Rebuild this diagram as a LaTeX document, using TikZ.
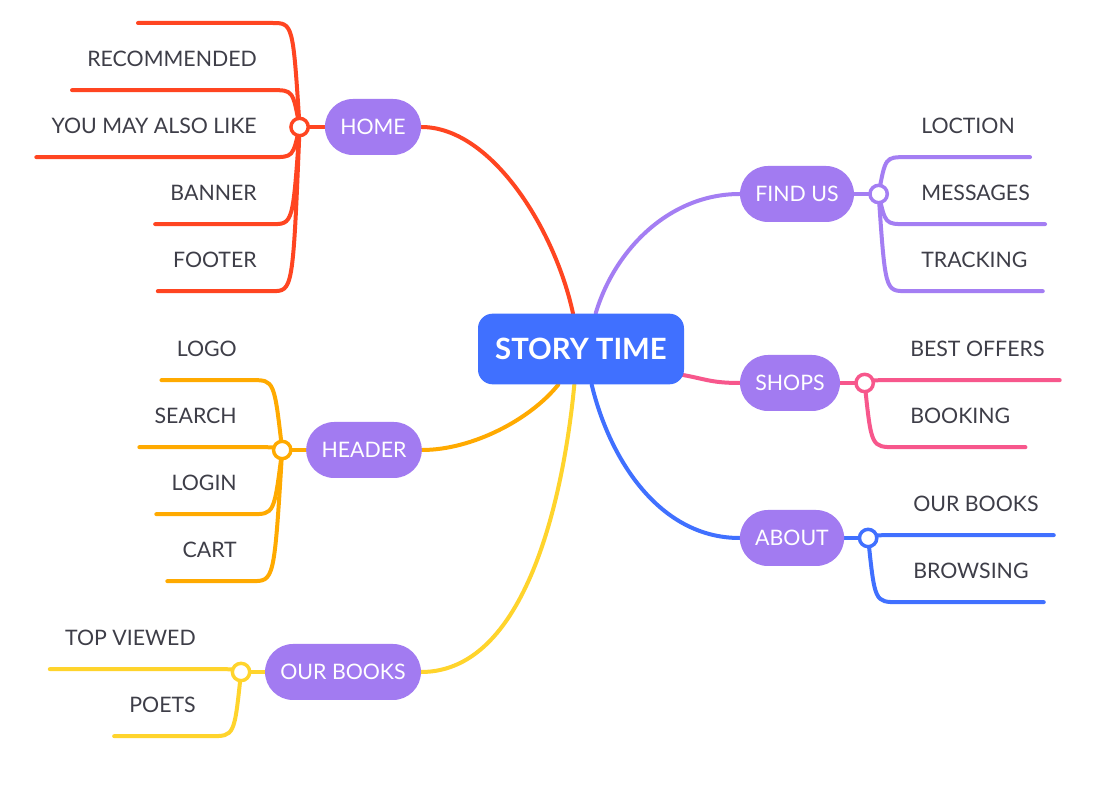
\documentclass[tikz,border=0pt]{standalone}
\usepackage{fontspec}
\setmainfont{Lato}
\usetikzlibrary{positioning,backgrounds}

\definecolor{storyblue}{HTML}{4070FF}
\definecolor{nodepurple}{HTML}{A27BF1}
\definecolor{homered}{HTML}{FF4521}
\definecolor{headerorange}{HTML}{FFAA00}
\definecolor{booksyellow}{HTML}{FFD42C}
\definecolor{findpurple}{HTML}{A47EF3}
\definecolor{shopspink}{HTML}{F7578C}
\definecolor{aboutblue}{HTML}{4070FF}
\definecolor{leafgray}{HTML}{3E3E48}

\begin{document}
\begin{tikzpicture}[x=0.75pt, y=-0.75pt,
		mainnode/.style={rectangle, rounded corners=11pt, fill=storyblue, text=white, minimum width=154.5pt, minimum height=53pt, font=\fontsize{22}{26}\selectfont\bfseries},
		branch/.style={rectangle, rounded corners=21pt, fill=nodepurple, text=white, minimum height=42pt, inner xsep=11.5pt, font=\fontsize{16}{19}\selectfont},
		hub/.style={circle, draw=#1, fill=white, line width=2.6pt, minimum size=13pt, inner sep=0pt},
		leaf/.style={text=leafgray, inner xsep=11.25pt, inner ysep=17.4pt, text height=11.5pt, text depth=0pt, font=\fontsize{16}{19}\selectfont},
		link/.style={draw=#1, line width=3pt, line cap=round},
		]
		\useasboundingbox (0,0) rectangle (1101,787);

		%Main Nodes
		\node[mainnode]	(story)		at (581,349)	{STORY TIME};
		\node[branch]	(home)		at (373,127)	{HOME};
		\node[branch]	(header)	at (364,450)	{HEADER};
		\node[branch]	(ourbooks)	at (343,672)	{OUR BOOKS};
		\node[branch]	(findus)	at (797,194)	{FIND US};
		\node[branch]	(shops)		at (790,383)	{SHOPS};
		\node[branch]	(about)		at (792,538)	{ABOUT};

		%Hubs
		\node[hub=homered]		(home_hub)		[left=11pt of home]		{};
		\node[hub=headerorange]	(header_hub)	[left=10pt of header]	{};
		\node[hub=booksyellow]	(books_hub)		[left=10pt of ourbooks]	{};
		\node[hub=findpurple]	(find_hub)		[right=10.5pt of findus]	{};
		\node[hub=shopspink]	(shops_hub)		[right=10.5pt of shops]	{};
		\node[hub=aboutblue]	(about_hub)		[right=10pt of about]	{};
		\coordinate	(home_root)		at ([xshift=-5pt]home_hub.center);
		\coordinate	(header_root)	at ([xshift=-6pt]header_hub.center);
		\coordinate	(books_root)	at ([xshift=-5pt]books_hub.center);
		\coordinate	(find_root)		at ([xshift=5pt]find_hub.center);
		\coordinate	(shops_root)	at ([xshift=5pt]shops_hub.center);
		\coordinate	(about_root)	at ([xshift=5pt]about_hub.center);

		%Home
		\coordinate	(home_top_in)	at (272,23);
		\coordinate	(home_top)		at (138,23);
		\node[leaf, anchor=east]	(recommended)	at (272,59)		{RECOMMENDED};
		\node[leaf, anchor=east]	(alsolike)		at (272,126)	{YOU MAY ALSO LIKE};
		\node[leaf, anchor=east]	(banner)		at (272,193)	{BANNER};
		\node[leaf, anchor=east]	(footer)		at (272,260)	{FOOTER};

		%Header
		\node[leaf, anchor=east]	(logo)		at (252,349)	{LOGO};
		\node[leaf, anchor=east]	(search)	at (252,416)	{SEARCH};
		\node[leaf, anchor=east]	(login)		at (252,483)	{LOGIN};
		\node[leaf, anchor=east]	(cart)		at (252,550)	{CART};

		%Our Books
		\node[leaf, anchor=east]	(topviewed)	at (211,638)	{TOP VIEWED};
		\node[leaf, anchor=east]	(poets)		at (211,705)	{POETS};

		%Find Us
		\node[leaf, anchor=west]	(location)	at (906,126)	{LOCTION};
		\node[leaf, anchor=west]	(messages)	at (906,193)	{MESSAGES};
		\node[leaf, anchor=west]	(tracking)	at (906,260)	{TRACKING};

		%Shops
		\node[leaf, anchor=west]	(offers)	at (895,349)	{BEST OFFERS};
		\node[leaf, anchor=west]	(booking)	at (895,416)	{BOOKING};

		%About
		\node[leaf, anchor=west]	(books)		at (898,504)	{OUR BOOKS};
		\node[leaf, anchor=west]	(browsing)	at (898,571)	{BROWSING};

		\begin{scope}[on background layer]
		\fill[white] (0,0) rectangle (1101,787);

		%Main Lines
		\draw[link=homered]		(home.east)		.. controls +(70,0) and +(-18,-84) ..	([xshift=-6pt]story.north);
		\draw[link=headerorange]	(header.east)	.. controls +(50,0) and +(-28,35) ..	([xshift=-17pt]story.south);
		\draw[link=booksyellow]	(ourbooks.east)	.. controls +(110,0) and +(-9,95) ..	([xshift=-5pt]story.south);
		\draw[link=findpurple]	(findus.west)	.. controls +(-70,0) and +(19,-64) ..	([xshift=11pt]story.north);
		\draw[link=shopspink]	(shops.west)	.. controls +(-30,0) and +(25,4) ..	([xshift=-4pt, yshift=-19pt]story.east);
		\draw[link=aboutblue]	(about.west)	.. controls +(-80,0) and +(18,75) ..	([xshift=8pt]story.south);

		%Home Lines
		\draw[link=homered]	(home) -- (home_hub);
		\draw[link=homered]	(home_hub.center) .. controls (home_root |- home_top_in) .. (home_top_in) -- (home_top);
		\draw[link=homered]	(home_hub.center) .. controls (home_root |- recommended.south east) .. (recommended.south east) -- (recommended.south west);
		\draw[link=homered]	(home_hub.center) .. controls (home_root |- alsolike.south east) .. (alsolike.south east) -- (alsolike.south west);
		\draw[link=homered]	(home_hub.center) .. controls (home_root |- banner.south east) .. (banner.south east) -- (banner.south west);
		\draw[link=homered]	(home_hub.center) .. controls (home_root |- footer.south east) .. (footer.south east) -- (footer.south west);

		%Header Lines
		\draw[link=headerorange]	(header) -- (header_hub);
		\draw[link=headerorange]	(header_hub.center) .. controls (header_root |- logo.south east) .. (logo.south east) -- (logo.south west);
		\draw[link=headerorange]	(header_hub.center) .. controls (header_root |- search.south east) .. (search.south east) -- (search.south west);
		\draw[link=headerorange]	(header_hub.center) .. controls (header_root |- login.south east) .. (login.south east) -- (login.south west);
		\draw[link=headerorange]	(header_hub.center) .. controls (header_root |- cart.south east) .. (cart.south east) -- (cart.south west);

		%Our Books Lines
		\draw[link=booksyellow]	(ourbooks) -- (books_hub);
		\draw[link=booksyellow]	(books_hub.center) .. controls (books_root |- topviewed.south east) .. (topviewed.south east) -- (topviewed.south west);
		\draw[link=booksyellow]	(books_hub.center) .. controls (books_root |- poets.south east) .. (poets.south east) -- (poets.south west);

		%Find Us Lines
		\draw[link=findpurple]	(findus) -- (find_hub);
		\draw[link=findpurple]	(find_hub.center) .. controls (find_root |- location.south west) .. (location.south west) -- (location.south east);
		\draw[link=findpurple]	(find_hub.center) .. controls (find_root |- messages.south west) .. (messages.south west) -- (messages.south east);
		\draw[link=findpurple]	(find_hub.center) .. controls (find_root |- tracking.south west) .. (tracking.south west) -- (tracking.south east);

		%Shops Lines
		\draw[link=shopspink]	(shops) -- (shops_hub);
		\draw[link=shopspink]	(shops_hub.center) .. controls (shops_root |- offers.south west) .. (offers.south west) -- (offers.south east);
		\draw[link=shopspink]	(shops_hub.center) .. controls (shops_root |- booking.south west) .. (booking.south west) -- (booking.south east);

		%About Lines
		\draw[link=aboutblue]	(about) -- (about_hub);
		\draw[link=aboutblue]	(about_hub.center) .. controls (about_root |- books.south west) .. (books.south west) -- (books.south east);
		\draw[link=aboutblue]	(about_hub.center) .. controls (about_root |- browsing.south west) .. (browsing.south west) -- (browsing.south east);
		\end{scope}

	\end{tikzpicture}
\end{document}
